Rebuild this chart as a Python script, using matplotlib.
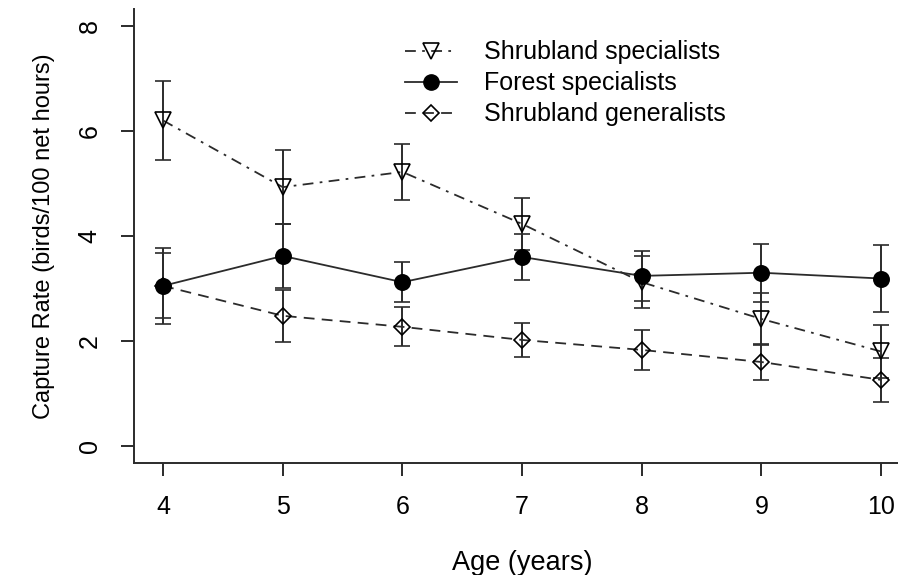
import matplotlib
matplotlib.use("Agg")
import matplotlib.pyplot as plt
from matplotlib.lines import Line2D

plt.rcParams['font.family'] = ['Liberation Sans', 'DejaVu Sans']

# capture rates by stand age, mean and +/- error (birds/100 net hours)
age = [4, 5, 6, 7, 8, 9, 10]

shrub_spec = [6.20, 4.93, 5.22, 4.23, 3.12, 2.42, 1.80]
shrub_spec_err = [0.75, 0.71, 0.53, 0.49, 0.50, 0.49, 0.50]

forest_spec = [3.05, 3.62, 3.12, 3.60, 3.24, 3.30, 3.19]
forest_spec_err = [0.62, 0.61, 0.38, 0.44, 0.47, 0.55, 0.64]

shrub_gen = [3.05, 2.48, 2.27, 2.02, 1.83, 1.60, 1.26]
shrub_gen_err = [0.73, 0.50, 0.37, 0.32, 0.38, 0.34, 0.42]

yticks = [0, 2, 4, 6, 8]

INK = '#2b2b2b'
DASHDOT = (0, (6, 3.5, 1.5, 3.5))
DASHED = (0, (6, 4))

fig = plt.figure(figsize=(8.98, 5.75), dpi=100)
ax = fig.add_axes([0.1496, 0.1951, 0.8635, 0.789])

common = dict(capsize=6, elinewidth=1.4, capthick=1.4, ecolor=INK,
              color=INK, lw=1.3, mec='black', mew=1.2)

# generalists first so the filled forest points sit on top where they overlap
ax.errorbar(age, shrub_gen, yerr=shrub_gen_err, marker='D', ms=8.5,
            mfc='none', linestyle=DASHED, **common)
ax.errorbar(age, shrub_spec, yerr=shrub_spec_err, marker='v', ms=11,
            mfc='none', linestyle=DASHDOT, **common)
ax.errorbar(age, forest_spec, yerr=forest_spec_err, marker='o', ms=11,
            mfc='black', linestyle='-', **common)

ax.set_xlim(3.76, 10.24)
ax.set_ylim(-0.32, 8.32)
ax.set_xticks(age)
ax.set_yticks(yticks)

for side in ('top', 'right'):
    ax.spines[side].set_visible(False)
for side in ('left', 'bottom'):
    ax.spines[side].set_color(INK)
    ax.spines[side].set_linewidth(1.4)

ax.tick_params(direction='out', length=9.5, width=1.4, color=INK,
               labelsize=18, pad=14)
for lab in ax.get_yticklabels():
    lab.set_rotation(90)
    lab.set_va('center')

ax.set_xlabel('Age (years)', fontsize=19.5, labelpad=22)
ax.set_ylabel('Capture Rate (birds/100 net hours)', fontsize=17, labelpad=16)

handles = [
    Line2D([], [], color=INK, lw=1.3, linestyle=DASHDOT, marker='v', ms=11,
           mfc='none', mec='black', mew=1.2),
    Line2D([], [], color=INK, lw=1.3, linestyle='-', marker='o', ms=11,
           mfc='black', mec='black'),
    Line2D([], [], color=INK, lw=1.3, linestyle=DASHED, marker='D', ms=8.5,
           mfc='none', mec='black', mew=1.2),
]
labels = ['Shrubland specialists', 'Forest specialists', 'Shrubland generalists']
fig.legend(handles, labels, loc='upper left', bbox_to_anchor=(0.451, 0.93),
           frameon=False, fontsize=18, handlelength=2.1, handletextpad=1.08,
           labelspacing=0.28, borderpad=0, borderaxespad=0, numpoints=1)

fig.savefig('out.png', dpi=100)
